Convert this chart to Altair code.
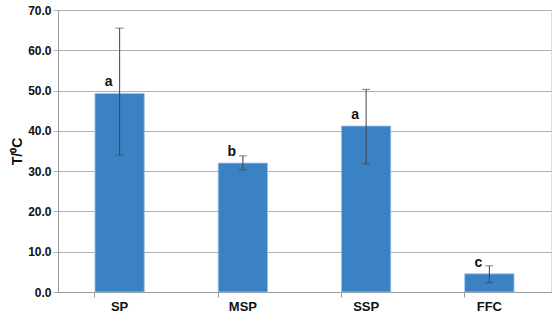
import altair as alt
import pandas as pd

categories = ["SP", "MSP", "SSP", "FFC"]
means = [49.3, 32.0, 41.2, 4.5]
err_low = [34.0, 30.3, 31.8, 2.3]
err_high = [65.5, 33.8, 50.3, 6.5]
letters = ["a", "b", "a", "c"]

df = pd.DataFrame({"cat": categories, "mean": means, "lo": err_low, "hi": err_high, "letter": letters})

YTITLE = "T/⁰C"

xenc = alt.X("cat:N", sort=categories, title=None,
             scale=alt.Scale(paddingInner=0.6, paddingOuter=0.3),
             axis=alt.Axis(labelAngle=0, labelFont="Liberation Sans", labelFontWeight="bold",
                           labelFontSize=13, labelColor="#111", domainColor="#999",
                           tickColor="#999", tickSize=5, bandPosition=0, labelPadding=3))
yscale = alt.Scale(domain=[0, 70], nice=False)

bars = alt.Chart(df).mark_bar(color="#3B82C4", stroke="#9cc3ea", strokeWidth=0.8).encode(
    x=xenc,
    y=alt.Y("mean:Q", scale=yscale, title=YTITLE,
            axis=alt.Axis(values=[0, 10, 20, 30, 40, 50, 60, 70], format=".1f",
                          labelFont="Liberation Sans", labelFontWeight="bold", labelFontSize=12,
                          labelColor="#111", gridColor="#b0b0b0", gridWidth=1, domainColor="#999",
                          tickColor="#b0b0b0", tickSize=5, titleFont="Liberation Sans",
                          titleFontWeight="bold", titleFontSize=14, titleColor="#111",
                          titlePadding=3)),
)

errs = alt.Chart(df).mark_errorbar(ticks=alt.MarkConfig(size=8, color="#444"), color="#444",
                                   thickness=1).encode(
    x=alt.X("cat:N", sort=categories),
    y=alt.Y("lo:Q", scale=yscale, title=YTITLE),
    y2="hi:Q",
)

text = alt.Chart(df).mark_text(font="Liberation Sans", fontWeight="bold", fontSize=14,
                               color="#111", dx=-11, dy=-11).encode(
    x=alt.X("cat:N", sort=categories),
    y=alt.Y("mean:Q", scale=yscale, title=YTITLE),
    text="letter:N",
)

chart = alt.layer(bars, errs, text).properties(
    width=493, height=282,
    autosize=alt.AutoSizeParams(type="none"),
    padding={"left": 58, "top": 10, "right": 5, "bottom": 21},
).configure_view(stroke=None).configure(background="white")

chart.save("out.html", embed_options={"renderer": "svg", "actions": False})
